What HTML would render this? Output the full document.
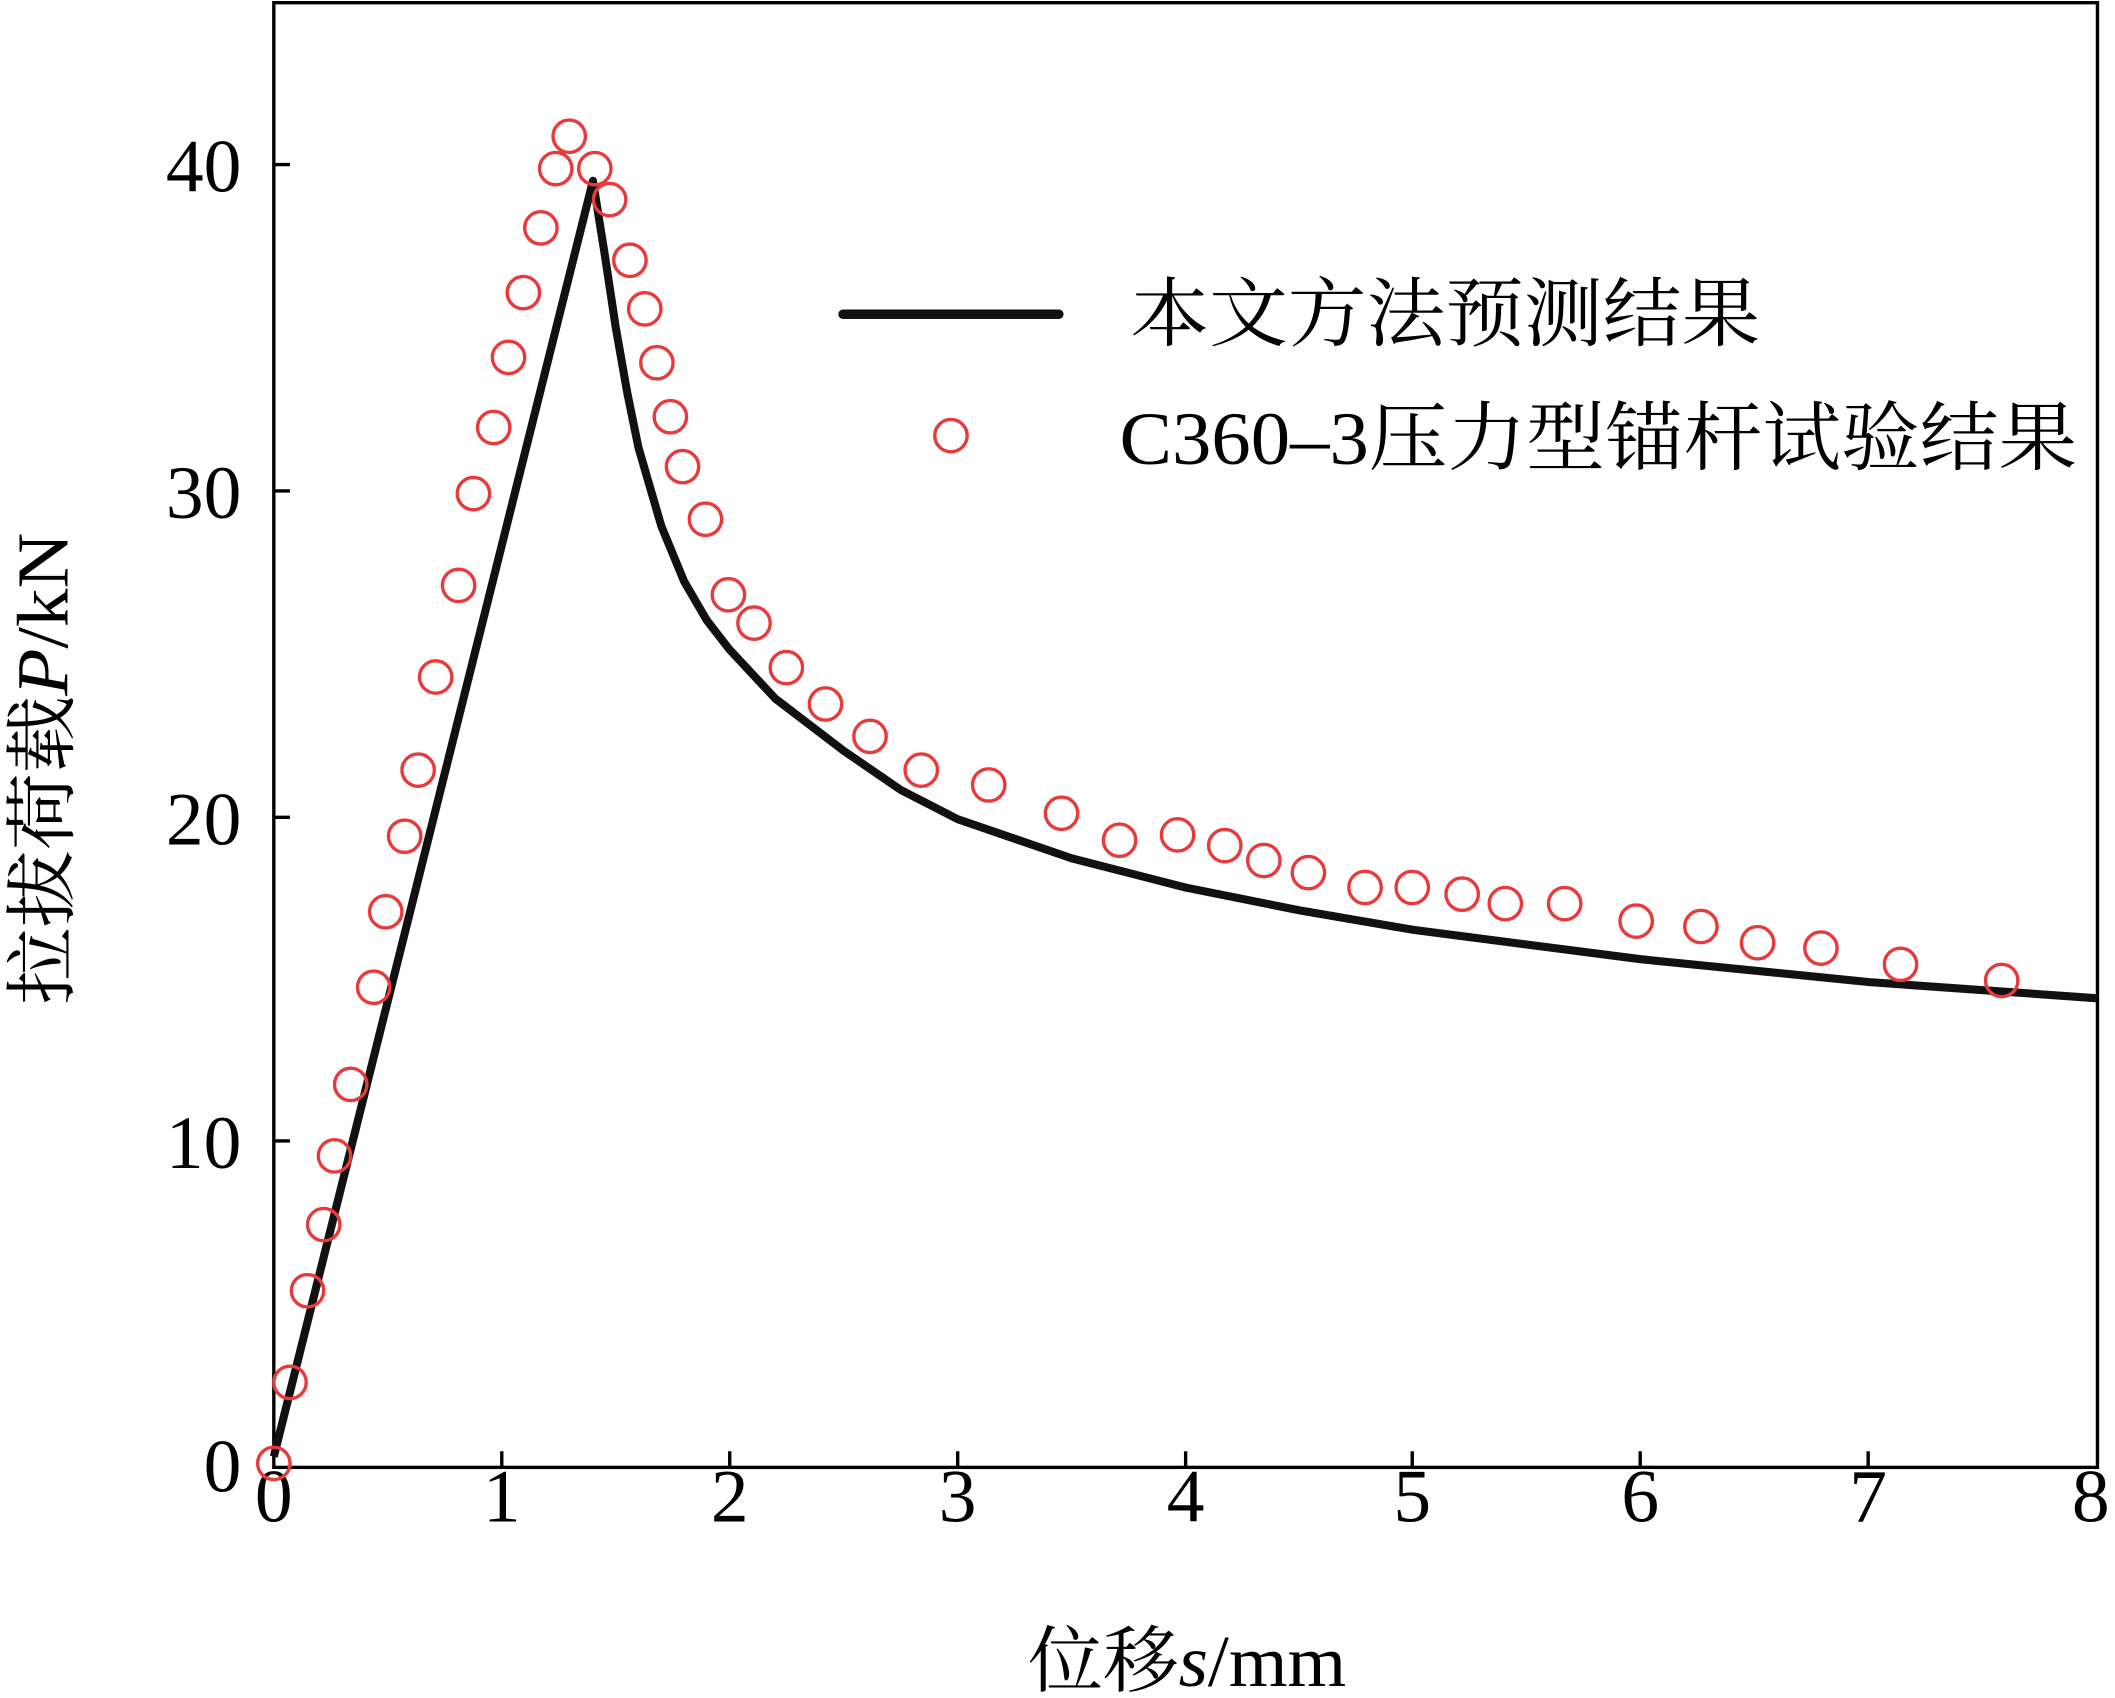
<!DOCTYPE html>
<html><head><meta charset="utf-8"><style>html,body{margin:0;padding:0;background:#fff}svg{display:block}</style></head>
<body>
<svg width="2115" height="1698" viewBox="0 0 1568 1259" preserveAspectRatio="none" xmlns="http://www.w3.org/2000/svg">
<rect x="0" y="0" width="1568" height="1259" fill="#fff"/>
<g stroke="#000" stroke-width="2.5" fill="none">
<rect x="203" y="2" width="1352" height="1086"/>
<path d="M372 1088v-12M541 1088v-12M710 1088v-12M879 1088v-12M1047 1088v-12M1216 1088v-12M1385 1088v-12M203 846h12M203 606h12M203 364h12M203 122h12"/>
</g>
<g font-family="Liberation Serif, serif" font-size="56" fill="#000" text-anchor="middle">
<text x="203" y="1128">0</text><text x="372" y="1128">1</text><text x="541" y="1128">2</text><text x="710" y="1128">3</text><text x="879" y="1128">4</text><text x="1047" y="1128">5</text><text x="1216" y="1128">6</text><text x="1385" y="1128">7</text><text x="1550" y="1128">8</text>
</g>
<g font-family="Liberation Serif, serif" font-size="56" fill="#000" text-anchor="end">
<text x="179" y="1106">0</text><text x="179" y="866">10</text><text x="179" y="626">20</text><text x="179" y="384">30</text><text x="179" y="142">40</text>
</g>
<text x="762" y="1250" textLength="236" lengthAdjust="spacingAndGlyphs" font-family="Liberation Serif, 'Noto Serif CJK SC', serif" font-size="54">位移<tspan font-style="italic">s</tspan>/mm</text>
<text transform="translate(50,745) rotate(-90)" textLength="350" lengthAdjust="spacingAndGlyphs" font-family="Liberation Serif, 'Noto Serif CJK SC', serif" font-size="54">拉拔荷载<tspan font-style="italic">P</tspan>/kN</text>
<polyline fill="none" stroke="#111" stroke-width="6" stroke-linejoin="round" points="203,1080 439.6,134.1 448.1,187.2 456.5,242.8 465,291.1 473.4,332.1 490.3,390.1 507.2,431.1 524.1,460.1 541,481.8 574.8,518 625.5,556.7 667.8,585.7 710,607.4 794.5,636.4 879,658.1 963.5,675 1048,689.5 1217,711.3 1386,728.2 1555,740.2"/>
<g fill="none" stroke="#e8393b" stroke-width="2.5">
<circle cx="203" cy="1085" r="12"/><circle cx="215" cy="1025" r="12"/><circle cx="228" cy="957" r="12"/><circle cx="240" cy="908" r="12"/><circle cx="248" cy="857" r="12"/><circle cx="260" cy="804" r="12"/><circle cx="277" cy="732" r="12"/><circle cx="286" cy="676" r="12"/><circle cx="300" cy="620" r="12"/><circle cx="310" cy="571" r="12"/><circle cx="323" cy="502" r="12"/><circle cx="340" cy="434" r="12"/><circle cx="351" cy="366" r="12"/><circle cx="366" cy="317" r="12"/><circle cx="377" cy="265" r="12"/><circle cx="388" cy="217" r="12"/><circle cx="401" cy="169" r="12"/><circle cx="412" cy="125" r="12"/><circle cx="422" cy="101" r="12"/><circle cx="441" cy="125" r="12"/><circle cx="452" cy="148" r="12"/><circle cx="467" cy="193" r="12"/><circle cx="478" cy="229" r="12"/><circle cx="487" cy="269" r="12"/><circle cx="497" cy="309" r="12"/><circle cx="506" cy="346" r="12"/><circle cx="523" cy="385" r="12"/><circle cx="540" cy="441" r="12"/><circle cx="559" cy="462" r="12"/><circle cx="583" cy="495" r="12"/><circle cx="612" cy="522" r="12"/><circle cx="645" cy="546" r="12"/><circle cx="683" cy="571" r="12"/><circle cx="733" cy="582" r="12"/><circle cx="787" cy="603" r="12"/><circle cx="830" cy="623" r="12"/><circle cx="873" cy="619" r="12"/><circle cx="908" cy="627" r="12"/><circle cx="937" cy="638" r="12"/><circle cx="970" cy="647" r="12"/><circle cx="1012" cy="658" r="12"/><circle cx="1047" cy="658" r="12"/><circle cx="1084" cy="663" r="12"/><circle cx="1116" cy="670" r="12"/><circle cx="1160" cy="670" r="12"/><circle cx="1213" cy="683" r="12"/><circle cx="1261" cy="687" r="12"/><circle cx="1303" cy="699" r="12"/><circle cx="1350" cy="703" r="12"/><circle cx="1409" cy="715" r="12"/><circle cx="1484" cy="727" r="12"/>
<circle cx="705" cy="323" r="12"/>
</g>
<line x1="625" y1="233" x2="785" y2="233" stroke="#111" stroke-width="7" stroke-linecap="round"/>
<g font-family="Liberation Serif, 'Noto Serif CJK SC', serif" font-size="56" fill="#000">
<text x="838" y="252" textLength="467" lengthAdjust="spacingAndGlyphs">本文方法预测结果</text>
<text x="830" y="344" textLength="710" lengthAdjust="spacingAndGlyphs">C360–3压力型锚杆试验结果</text>
</g>
</svg>
</body></html>
